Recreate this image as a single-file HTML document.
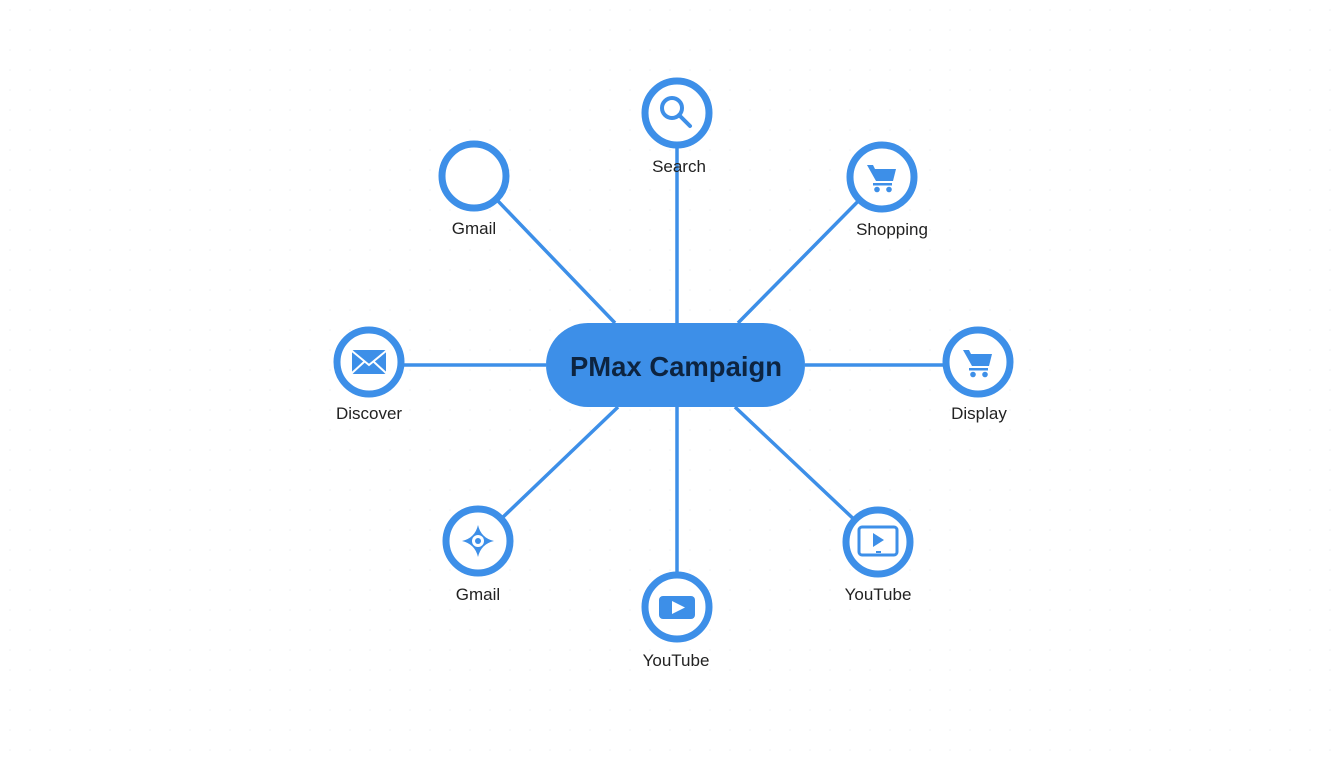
<!DOCTYPE html>
<html><head><meta charset="utf-8"><style>
html,body{margin:0;padding:0;background:#fff;}
svg{display:block;}
text{font-family:"Liberation Sans",Arial,sans-serif;}
</style></head><body>
<svg width="1344" height="768" viewBox="0 0 1344 768" xmlns="http://www.w3.org/2000/svg">
<defs>
<pattern id="dots" width="20" height="20" patternUnits="userSpaceOnUse"><circle cx="10" cy="10" r="0.8" fill="#eef0f3"/></pattern>
<g id="cart" fill="#3d8fe8">
<path d="M-15,-12 h6 l2,4 h21 l-3,12 h-17 z" />
<rect x="-9" y="6" width="19" height="2.5"/>
<circle cx="-5" cy="12.5" r="2.8"/><circle cx="7" cy="12.5" r="2.8"/>
</g>
</defs>
<rect width="1344" height="768" fill="url(#dots)"/>
<g stroke="#3d8fe8" stroke-width="3.5" fill="none">
<line x1="677" y1="323" x2="677" y2="113"/>
<line x1="615" y1="323" x2="474" y2="176"/>
<line x1="738" y1="323" x2="882" y2="177"/>
<line x1="546" y1="365" x2="369" y2="365"/>
<line x1="805" y1="365" x2="978" y2="365"/>
<line x1="618" y1="407" x2="478" y2="541"/>
<line x1="677" y1="407" x2="677" y2="607"/>
<line x1="735" y1="407" x2="878" y2="542"/>
</g>
<g stroke="#3d8fe8" stroke-width="7" fill="#fff">
<circle cx="677" cy="113" r="32"/>
<circle cx="474" cy="176" r="32"/>
<circle cx="882" cy="177" r="32"/>
<circle cx="369" cy="362" r="32"/>
<circle cx="978" cy="362" r="32"/>
<circle cx="478" cy="541" r="32"/>
<circle cx="677" cy="607" r="32"/>
<circle cx="878" cy="542" r="32"/>
</g>
<g stroke="#3d8fe8" stroke-width="4" fill="none" stroke-linecap="round">
<circle cx="672" cy="108" r="10"/><line x1="679" y1="115" x2="690" y2="126"/>
</g>
<use href="#cart" x="882" y="177"/>
<use href="#cart" x="978" y="362"/>
<rect x="352" y="350" width="34" height="24" rx="2" fill="#3d8fe8"/>
<path d="M352,351 L369,365 L386,351 M352,373 L364,362 M386,373 L374,362" stroke="#fff" stroke-width="2" fill="none"/>
<path d="M478,525 Q481,538 494,541 Q481,544 478,557 Q475,544 462,541 Q475,538 478,525z" fill="#3d8fe8"/>
<circle cx="478" cy="541" r="6" fill="#fff"/><circle cx="478" cy="541" r="3" fill="#3d8fe8"/>
<rect x="659" y="596" width="36" height="23" rx="4" fill="#3d8fe8"/>
<path d="M672,601 L685,607.5 L672,614z" fill="#fff"/>
<rect x="859" y="527" width="38" height="28" rx="3" fill="none" stroke="#3d8fe8" stroke-width="3"/>
<path d="M873,533 L884,540 L873,547z" fill="#3d8fe8"/>
<rect x="876" y="551" width="5" height="2" fill="#3d8fe8"/>
<rect x="546" y="323" width="259" height="84" rx="42" fill="#3d8fe8"/>
<text x="676" y="376" text-anchor="middle" font-size="28" font-weight="bold" fill="#0d2440" textLength="212" lengthAdjust="spacingAndGlyphs">PMax Campaign</text>
<g font-size="17" fill="#222" text-anchor="middle">
<text x="679" y="172">Search</text>
<text x="474" y="234">Gmail</text>
<text x="892" y="235">Shopping</text>
<text x="369" y="419">Discover</text>
<text x="979" y="419">Display</text>
<text x="478" y="600">Gmail</text>
<text x="878" y="600">YouTube</text>
<text x="676" y="666">YouTube</text>
</g>
</svg>
</body></html>
